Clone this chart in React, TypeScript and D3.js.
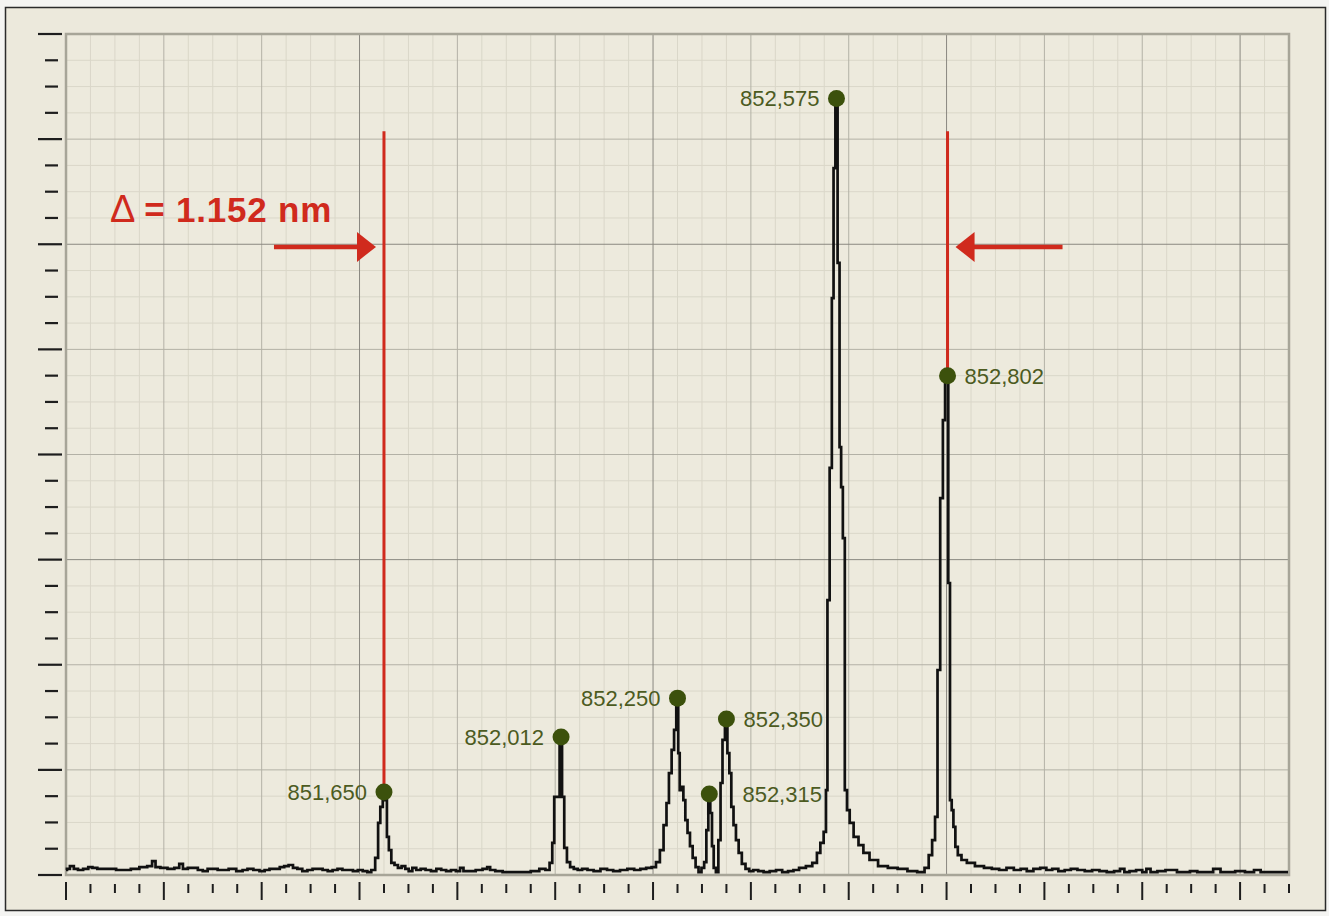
import React from "react";
import * as d3 from "d3";

const W = 1329;
const H = 916;

// Wavelength axis (nm) and intensity axis (counts)
const X_DOMAIN: [number, number] = [851.0, 853.5];
const Y_DOMAIN: [number, number] = [0, 3200];
const X_MINOR = 0.05;
const Y_MINOR = 100;

// Measured spectrum: [wavelength nm, counts]
const SPECTRUM: [number, number][] = [
  [851.000, 19], [851.004, 23], [851.012, 34], [851.020, 23], [851.029, 19], [851.041, 23],
  [851.050, 30], [851.058, 27], [851.070, 23], [851.082, 23], [851.095, 23], [851.110, 19],
  [851.125, 19], [851.140, 23], [851.160, 30], [851.172, 34], [851.180, 53], [851.186, 30],
  [851.200, 27], [851.215, 23], [851.228, 27], [851.235, 42], [851.243, 23], [851.255, 27],
  [851.264, 27], [851.275, 19], [851.284, 15], [851.295, 23], [851.305, 23], [851.315, 19],
  [851.325, 19], [851.340, 23], [851.356, 15], [851.366, 19], [851.376, 23], [851.390, 19],
  [851.401, 15], [851.411, 19], [851.421, 23], [851.432, 23], [851.442, 30], [851.450, 34],
  [851.460, 38], [851.468, 27], [851.478, 23], [851.488, 15], [851.499, 19], [851.509, 23],
  [851.519, 23], [851.530, 19], [851.540, 15], [851.550, 19], [851.560, 23], [851.570, 19],
  [851.581, 19], [851.592, 15], [851.601, 19], [851.612, 15], [851.620, 11], [851.628, 19],
  [851.636, 65], [851.640, 198], [851.645, 259], [851.650, 316], [851.654, 285], [851.658, 145],
  [851.662, 95], [851.668, 46], [851.675, 38], [851.682, 27], [851.690, 34], [851.697, 23],
  [851.704, 15], [851.712, 27], [851.720, 19], [851.730, 23], [851.740, 19], [851.752, 15],
  [851.762, 23], [851.772, 19], [851.782, 15], [851.792, 19], [851.802, 15], [851.809, 27],
  [851.816, 15], [851.830, 15], [851.845, 19], [851.858, 23], [851.864, 30], [851.870, 19],
  [851.885, 15], [851.900, 11], [851.920, 11], [851.940, 11], [851.960, 15], [851.975, 23],
  [851.985, 19], [851.992, 46], [851.996, 122], [852.000, 297], [852.006, 297], [852.012, 525],
  [852.016, 297], [852.021, 103], [852.027, 49], [852.034, 30], [852.042, 23], [852.050, 19],
  [852.060, 23], [852.072, 19], [852.085, 15], [852.100, 23], [852.112, 19], [852.125, 15],
  [852.140, 19], [852.155, 23], [852.168, 19], [852.180, 23], [852.192, 27], [852.202, 30],
  [852.210, 49], [852.218, 95], [852.225, 190], [852.230, 274], [852.235, 388], [852.241, 476],
  [852.245, 552], [852.250, 673], [852.253, 464], [852.256, 323], [852.260, 335], [852.264, 285],
  [852.268, 209], [852.273, 160], [852.278, 110], [852.284, 65], [852.290, 30], [852.296, 11],
  [852.302, 27], [852.307, 49], [852.311, 171], [852.315, 308], [852.319, 236], [852.322, 110],
  [852.326, 27], [852.331, 11], [852.336, 133], [852.340, 350], [852.344, 514], [852.350, 594],
  [852.354, 464], [852.358, 388], [852.362, 259], [852.367, 190], [852.372, 133], [852.378, 84],
  [852.385, 42], [852.393, 23], [852.400, 15], [852.410, 19], [852.420, 15], [852.432, 11],
  [852.445, 15], [852.458, 19], [852.470, 11], [852.482, 15], [852.492, 19], [852.505, 27],
  [852.520, 34], [852.531, 46], [852.539, 84], [852.545, 122], [852.5525, 164], [852.5545, 323],
  [852.5585, 1046], [852.5635, 1549], [852.5675, 2195], [852.5705, 2690], [852.575, 2955],
  [852.5795, 2329], [852.583, 1628], [852.586, 1476], [852.590, 1282], [852.594, 323],
  [852.599, 247], [852.605, 198], [852.615, 145], [852.625, 114], [852.635, 84], [852.650, 57],
  [852.670, 34], [852.690, 27], [852.710, 23], [852.730, 15], [852.750, 11], [852.760, 27],
  [852.767, 76], [852.774, 133], [852.779, 221], [852.784, 780], [852.790, 1434], [852.795, 1731],
  [852.799, 1895], [852.802, 1900], [852.805, 1111], [852.809, 285], [852.812, 247], [852.816, 183],
  [852.820, 107], [852.826, 76], [852.835, 57], [852.848, 46], [852.868, 34], [852.885, 27],
  [852.900, 23], [852.915, 19], [852.930, 27], [852.945, 19], [852.958, 23], [852.970, 15],
  [852.985, 23], [852.998, 27], [853.010, 19], [853.022, 23], [853.035, 15], [853.048, 19],
  [853.060, 23], [853.075, 19], [853.090, 15], [853.105, 19], [853.120, 15], [853.135, 11],
  [853.150, 15], [853.159, 23], [853.168, 11], [853.180, 15], [853.195, 19], [853.205, 11],
  [853.212, 23], [853.222, 11], [853.240, 15], [853.255, 19], [853.267, 19], [853.275, 11],
  [853.290, 11], [853.305, 15], [853.320, 11], [853.335, 11], [853.355, 23], [853.365, 11],
  [853.380, 11], [853.400, 15], [853.420, 11], [853.437, 19], [853.447, 11], [853.465, 11],
  [853.480, 11], [853.498, 11],
];

// Identified lines
const PEAK_NM = [851.650, 852.012, 852.250, 852.315, 852.350, 852.575, 852.802];
const PEAK_COUNTS = [316, 525, 673, 308, 594, 2955, 1900];
const PEAK_LABELS = ["851,650", "852,012", "852,250", "852,315", "852,350", "852,575", "852,802"];
const LABEL_SIDE = ["left", "left", "left", "right", "right", "left", "right"];

// Separation markers between the outer lines
const MARKER_NM = [851.650, 852.802];
const MARKER_TOP = 2830;
const ARROW_LEVEL = 2390;
const DELTA_TEXT = `= ${(MARKER_NM[1] - MARKER_NM[0]).toFixed(3)} nm`;

const PLOT = { left: 66, right: 1289, top: 34, bottom: 875 };

const RED = "#d02a1d";
const GREEN_DOT = "#3c510c";
const GREEN_TEXT = "#4c5b1f";

export default function App() {
  const x = d3.scaleLinear().domain(X_DOMAIN).range([PLOT.left, PLOT.right]);
  const y = d3.scaleLinear().domain(Y_DOMAIN).range([PLOT.bottom, PLOT.top]);

  const nx = Math.round((X_DOMAIN[1] - X_DOMAIN[0]) / X_MINOR);
  const ny = Math.round((Y_DOMAIN[1] - Y_DOMAIN[0]) / Y_MINOR);
  const xTicks = d3.range(nx + 1).map((i) => ({ i, v: X_DOMAIN[0] + i * X_MINOR }));
  const yTicks = d3.range(ny + 1).map((j) => ({ j, v: Y_DOMAIN[0] + j * Y_MINOR }));

  const gridStroke = (k: number) => (k % 12 === 0 ? "#8a8880" : k % 4 === 0 ? "#b3b1a6" : "#dad7c9");

  const line = d3
    .line<[number, number]>()
    .x((d) => x(d[0]))
    .y((d) => y(d[1]))
    .curve(d3.curveStep);

  const xl = x(MARKER_NM[0]);
  const xr = x(MARKER_NM[1]);
  const ay = y(ARROW_LEVEL);

  const labelX = PEAK_NM.map((nm, i) => {
    if (LABEL_SIDE[i] === "left") return x(nm) - 17;
    // right-hand labels of the close doublet share the same left edge
    if (PEAK_LABELS[i] === "852,315") return x(PEAK_NM[4]) + 16;
    return x(nm) + 17;
  });

  return (
    <svg
      width={W}
      height={H}
      style={{ position: "absolute", left: 0, top: 0, background: "#f4f4f2" }}
      fontFamily="'Liberation Sans', Arial, Helvetica, sans-serif"
    >
      <rect x={5.5} y={7.5} width={1320} height={903} fill="#ece9dc" stroke="#2b2b2b" strokeWidth={1.5} />
      <rect
        x={PLOT.left}
        y={PLOT.top}
        width={PLOT.right - PLOT.left}
        height={PLOT.bottom - PLOT.top}
        fill="#edeadd"
      />

      {/* grid: minor first, heavier lines on top */}
      {[2, 1, 0].map((level) => (
        <g key={level}>
          {xTicks
            .filter(({ i }) => (i % 12 === 0 ? 0 : i % 4 === 0 ? 1 : 2) === level)
            .map(({ i, v }) => (
              <line key={i} x1={x(v)} x2={x(v)} y1={PLOT.top} y2={PLOT.bottom} stroke={gridStroke(i)} strokeWidth={1} />
            ))}
          {yTicks
            .filter(({ j }) => (j % 12 === 0 ? 0 : j % 4 === 0 ? 1 : 2) === level)
            .map(({ j, v }) => (
              <line key={j} x1={PLOT.left} x2={PLOT.right} y1={y(v)} y2={y(v)} stroke={gridStroke(j)} strokeWidth={1} />
            ))}
        </g>
      ))}

      <rect
        x={PLOT.left}
        y={PLOT.top}
        width={PLOT.right - PLOT.left}
        height={PLOT.bottom - PLOT.top}
        fill="none"
        stroke="#a7a598"
        strokeWidth={2.5}
      />

      {/* left axis ticks */}
      {yTicks.map(({ j, v }) => (
        <line
          key={j}
          x1={j % 4 === 0 ? 38 : 45}
          x2={j % 4 === 0 ? 62 : 58}
          y1={y(v)}
          y2={y(v)}
          stroke="#1e1e1e"
          strokeWidth={2.2}
        />
      ))}

      {/* bottom axis ticks */}
      {xTicks.map(({ i, v }) => (
        <line
          key={i}
          x1={x(v)}
          x2={x(v)}
          y1={i % 4 === 0 ? 882 : 884}
          y2={i % 4 === 0 ? 900 : 893}
          stroke="#1e1e1e"
          strokeWidth={2}
        />
      ))}

      {/* separation markers */}
      <line x1={xl} x2={xl} y1={y(MARKER_TOP)} y2={y(PEAK_COUNTS[0])} stroke={RED} strokeWidth={3} />
      <line x1={xr} x2={xr} y1={y(MARKER_TOP)} y2={y(PEAK_COUNTS[6])} stroke={RED} strokeWidth={3} />

      <line x1={xl - 110} x2={xl - 24} y1={ay} y2={ay} stroke={RED} strokeWidth={4.5} />
      <path d={`M${xl - 8},${ay} L${xl - 27},${ay - 15} L${xl - 27},${ay + 15} Z`} fill={RED} />
      <line x1={xr + 115} x2={xr + 26} y1={ay} y2={ay} stroke={RED} strokeWidth={4.5} />
      <path d={`M${xr + 8},${ay} L${xr + 27},${ay - 15} L${xr + 27},${ay + 15} Z`} fill={RED} />

      <text x={110} y={222} fill={RED} fontSize={35} letterSpacing={0.8}>
        <tspan fontWeight="normal" fontSize={38}>Δ</tspan>
        <tspan dx={8} fontWeight="bold">{DELTA_TEXT}</tspan>
      </text>

      {/* spectrum trace */}
      <path d={line(SPECTRUM) ?? ""} fill="none" stroke="#111" strokeWidth={2.7} strokeLinejoin="miter" />

      {/* peak markers and labels */}
      {PEAK_NM.map((nm, i) => (
        <g key={PEAK_LABELS[i]}>
          <circle cx={x(nm)} cy={y(PEAK_COUNTS[i])} r={8.5} fill={GREEN_DOT} />
          <text
            x={labelX[i]}
            y={y(PEAK_COUNTS[i])}
            dy="0.36em"
            textAnchor={LABEL_SIDE[i] === "left" ? "end" : "start"}
            fontSize={22}
            fill={GREEN_TEXT}
          >
            {PEAK_LABELS[i]}
          </text>
        </g>
      ))}
    </svg>
  );
}
